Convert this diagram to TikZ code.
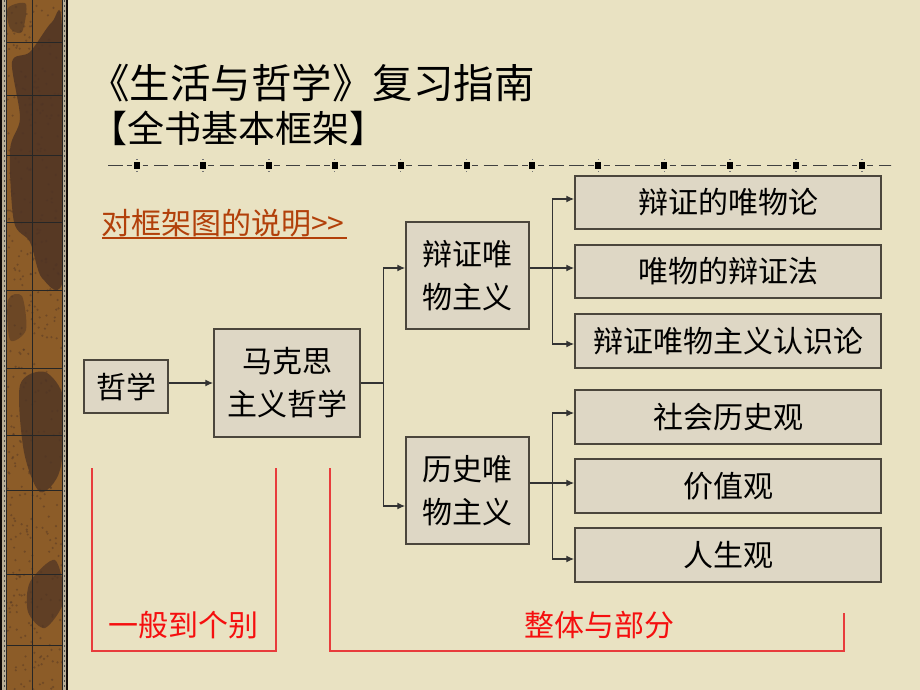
\documentclass[tikz,border=0pt]{standalone}
\usepackage{fontspec}
\newfontfamily\cjk{Noto Sans CJK SC}
\usetikzlibrary{arrows.meta}
\definecolor{paper}{RGB}{233,226,194}
\definecolor{boxfill}{RGB}{222,215,197}
\definecolor{boxline}{RGB}{75,70,60}
\definecolor{linkc}{RGB}{178,64,10}
\definecolor{redc}{RGB}{245,15,15}
\definecolor{bracketc}{RGB}{232,60,60}
\definecolor{wood}{RGB}{140,92,40}
\definecolor{wooddark}{RGB}{78,52,36}
\definecolor{bead}{RGB}{184,174,150}
\begin{document}
\begin{tikzpicture}[x=1pt,y=-1pt,
  box/.style={draw=boxline, line width=1.5pt, fill=boxfill, inner sep=0pt, align=center,
    font=\cjk\fontsize{30}{43}\selectfont},
  conn/.style={draw=black!80, line width=1.4pt},
  arr/.style={conn, -{Latex[length=8pt,width=7pt]}},
  redtxt/.style={text=redc, inner sep=0pt, font=\cjk\fontsize{30}{30}\selectfont},
  bracket/.style={draw=bracketc, line width=1.3pt},
  ruledash/.style={draw=black!75, line width=1.5pt}
]
\useasboundingbox (0,0) rectangle (920,690);
\fill[paper] (0,0) rectangle (920,690);
% wooden strip
\fill[black!80!wooddark] (0,0) rectangle (68,690);
\fill[bead] (2,0) rectangle (6,690);
\fill[bead] (62,0) rectangle (66,690);
\draw[black!70, line width=1pt, dash pattern=on 2pt off 3pt] (4,0) -- (4,690);
\draw[black!70, line width=1pt, dash pattern=on 2pt off 3pt] (64,0) -- (64,690);
\fill[wood] (6,0) rectangle (62,690);
\begin{scope}
\clip (6,0) rectangle (62,690);
\fill[wooddark, opacity=0.85] plot[smooth cycle] coordinates {(12,62) (30,52) (52,22) (62,28) (64,272) (42,278) (30,242) (14,222) (10,150) (20,118)};
\fill[wooddark, opacity=0.8] plot[smooth cycle] coordinates {(20,385) (45,372) (64,400) (60,470) (40,492) (24,452)};
\fill[wooddark, opacity=0.7] plot[smooth cycle] coordinates {(30,582) (55,560) (64,600) (45,628) (28,612)};
\fill[wooddark, opacity=0.6] plot[smooth cycle] coordinates {(8,8) (26,4) (22,32) (10,28)};
\fill[wooddark, opacity=0.5] plot[smooth cycle] coordinates {(8,300) (22,296) (26,330) (10,340)};
\pgfmathsetseed{7}
\foreach \k in {1,...,400}{
  \pgfmathsetmacro\px{6+56*rnd}
  \pgfmathsetmacro\py{690*rnd}
  \fill[wooddark, opacity=0.45] (\px,\py) circle (1.2pt);
}
\end{scope}
\draw[black!85, line width=0.8pt] (6,0) -- (6,690) (62,0) -- (62,690) (32,0) -- (32,690);
\foreach \h in {42,95,155,222,290,368,435,490,574,645}
  \draw[black!85, line width=0.8pt] (6,\h) -- (62,\h);
% title
\node[anchor=west, inner sep=0pt, font=\cjk\fontsize{40.5}{40.5}\selectfont] (title) at (89,83) {《生活与哲学》复习指南};
\node[anchor=west, inner sep=0pt, font=\cjk\fontsize{37}{37}\selectfont] (subtitle) at (90,128) {【全书基本框架】};
% dashed rule
\begin{scope}
\clip (106,150) rectangle (891,180);
\foreach \i in {-1,...,11}{
  \pgfmathsetmacro\c{137+65.9*\i}
  \draw[ruledash] (\c+5.5,165.5) -- (\c+11.3,165.5);
  \draw[ruledash] (\c+17,165.5) -- (\c+31.3,165.5);
  \draw[ruledash] (\c+37,165.5) -- (\c+51.5,165.5);
  \draw[ruledash] (\c+55.5,165.5) -- (\c+61.3,165.5);
}
\end{scope}
\foreach \i in {0,...,11}{
  \pgfmathsetmacro\c{137+65.9*\i}
  \fill[black] (\c-3,161.8) rectangle (\c+3,168.8);
  \fill[black!55] (\c-0.7,158.6) rectangle (\c+0.7,160.2);
  \fill[black!55] (\c-0.7,170.6) rectangle (\c+0.7,172.2);
}
% link
\node[anchor=west, inner sep=0pt, text=linkc, font=\cjk\fontsize{30}{30}\selectfont] (link) at (101,223) {对框架图的说明>>};
\draw[linkc, line width=1.2pt] (102,238) -- (347,238);
% boxes
\node[box, minimum width=84pt, minimum height=53pt] (zx) at (126,386.5) {哲学};
\node[box, minimum width=146pt, minimum height=108pt] (mk) at (287,383) {马克思\\主义哲学};
\node[box, minimum width=123pt, minimum height=107pt] (bz) at (467.5,275.5) {辩证唯\\物主义};
\node[box, minimum width=123pt, minimum height=107pt] (ls) at (467.5,490.5) {历史唯\\物主义};
\node[box, minimum width=306pt, minimum height=53pt] (r1) at (728,202.5) {辩证的唯物论};
\node[box, minimum width=306pt, minimum height=53pt] (r2) at (728,271.5) {唯物的辩证法};
\node[box, minimum width=306pt, minimum height=54pt] (r3) at (728,341) {辩证唯物主义认识论};
\node[box, minimum width=306pt, minimum height=54pt] (r4) at (728,417) {社会历史观};
\node[box, minimum width=306pt, minimum height=54pt] (r5) at (728,486) {价值观};
\node[box, minimum width=306pt, minimum height=54pt] (r6) at (728,555) {人生观};
% connectors
\draw[arr] (zx.east |- mk.west) -- (mk.west);
\draw[conn] (mk.east) -- ++(23,0) coordinate (j1);
\draw[arr] (j1) |- ([yshift=7.5pt]bz.west);
\draw[arr] (j1) |- ([yshift=-15.5pt]ls.west);
\draw[conn] ([yshift=7.5pt]bz.east) -- ++(23,0) coordinate (j2);
\draw[arr] (j2) -- (j2 -| r2.west);
\draw[arr] (j2) |- ([yshift=3.5pt]r1.west);
\draw[arr] (j2) |- ([yshift=-3pt]r3.west);
\draw[conn] ([yshift=7.5pt]ls.east) -- ++(23,0) coordinate (j3);
\draw[arr] (j3) -- (j3 -| r5.west);
\draw[arr] (j3) |- ([yshift=4pt]r4.west);
\draw[arr] (j3) |- ([yshift=-4pt]r6.west);
% brackets
\draw[bracket] (92,468) -- (92,651) -- (276,651) -- (276,468);
\draw[bracket] (330,468) -- (330,651) -- (844,651) -- (844,613);
\node[redtxt] (t1) at (183,625) {一般到个别};
\node[redtxt] (t2) at (599,625) {整体与部分};
\end{tikzpicture}
\end{document}
